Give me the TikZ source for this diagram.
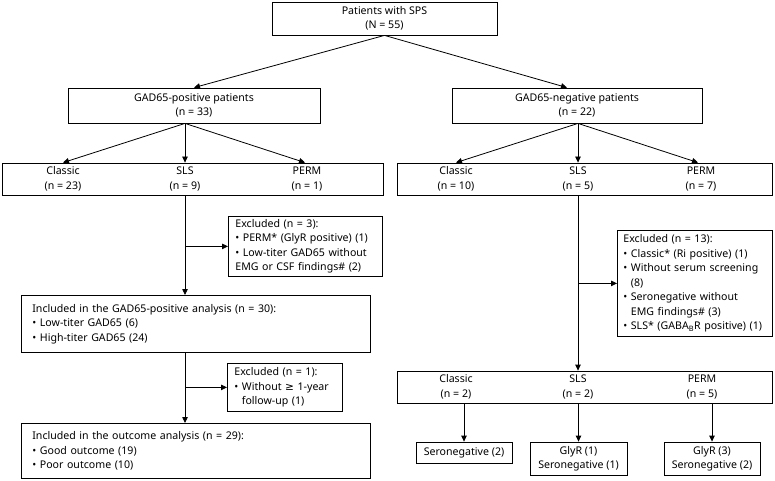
\documentclass[tikz,border=0pt]{standalone}
\usepackage{fontspec}
\setmainfont{Noto Sans}
\newfontfamily\symfont{DejaVu Sans}
\usepackage{tikz}
\usetikzlibrary{calc,positioning,arrows.meta}
\tikzset{
    >={Triangle[length=6pt,width=5.5pt]},
    box/.style={
        rectangle,
        draw, line width=0.8pt,
        inner sep=0pt,
        align=center
    },
    listbox/.style={
        box,
        anchor=north west,
        align=left,
        inner xsep=7pt
    },
    typetext/.style={align=center, inner sep=0pt},
    line/.style={draw, line width=0.8pt, ->},
    font={\fontsize{10.6pt}{14.5pt}\selectfont},
}
\begin{document}
\begin{tikzpicture}
[
    x=1pt, y=-1pt,
]
\useasboundingbox (0,0) rectangle (775,481);
% top levels
\node(all) at (384.5,18.5)[box, minimum width=225pt, minimum height=33pt]{Patients with SPS\\(N = 55)};
\node(gadpos) at (194,105.5)[box, minimum width=252pt, minimum height=35pt]{GAD65-positive patients\\(n = 33)};
\node(gadneg) at (577,105.5)[box, minimum width=250pt, minimum height=35pt]{GAD65-negative patients\\(n = 22)};
% phenotypes
\node(postype) at (192.5,179)[box, minimum width=381pt, minimum height=32pt]{};
\node(poscl) at (63,179)[typetext]{Classic\\(n = 23)};
\node(possls) at (185,179)[typetext]{SLS\\(n = 9)};
\node(posperm) at (307,179)[typetext]{PERM\\(n = 1)};
\node(negtype) at (584.5,179)[box, minimum width=375pt, minimum height=32pt]{};
\node(negcl) at (456,179)[typetext]{Classic\\(n = 10)};
\node(negsls) at (578,179)[typetext]{SLS\\(n = 5)};
\node(negperm) at (701,179)[typetext]{PERM\\(n = 7)};
% left branch
\node(exclpos) at (228,216)[listbox, text width=140pt, minimum height=60pt]{Excluded (n = 3):\\
    • PERM* (GlyR positive) (1)\\
    • Low-titer GAD65 without\\
    EMG or CSF findings\# (2)};
\node(inclpos) at (21,295)[listbox, inner xsep=11pt, text width=327pt, minimum height=57pt]{Included in the GAD65-positive analysis (n = 30):\\
    • Low-titer GAD65 (6)\\
    • High-titer GAD65 (24)};
\node(exclfu) at (227,363)[listbox, text width=101pt, minimum height=48pt]{Excluded (n = 1):\\
    • Without {\symfont ≥} 1-year\\
    \phantom{• }follow-up (1)};
\node(outcome) at (21,423)[listbox, inner xsep=11pt, text width=327pt, minimum height=55pt]{Included in the outcome analysis (n = 29):\\
    • Good outcome (19)\\
    • Poor outcome (10)};
% right branch
\node(exclneg) at (617,230)[listbox, inner xsep=6pt, text width=143pt, minimum height=106pt]{Excluded (n = 13):\\
    • Classic* (Ri positive) (1)\\
    • Without serum screening\\
    \phantom{• }(8)\\
    • Seronegative without\\
    \phantom{• }EMG findings\# (3)\\
    • SLS* (GABA\textsubscript{B}R positive) (1)};
\node(negsub) at (584.5,387)[box, minimum width=375pt, minimum height=32pt]{};
\node(subcl) at (456,387)[typetext]{Classic\\(n = 2)};
\node(subsls) at (578,387)[typetext]{SLS\\(n = 2)};
\node(subperm) at (702,387)[typetext]{PERM\\(n = 5)};
\node(serocl) at (464,452.5)[box, minimum width=96pt, minimum height=21pt]{Seronegative (2)};
\node(serosls) at (578.5,458.5)[box, minimum width=97pt, minimum height=33pt]{GlyR (1)\\Seronegative (1)};
\node(seroperm) at (712,458.5)[box, minimum width=96pt, minimum height=33pt]{GlyR (3)\\Seronegative (2)};
% arrows
\draw[line] (all.south) -- (gadpos.north);
\draw[line] (all.south) -- ([xshift=-10pt]gadneg.north);
\draw[line] (possls |- gadpos.south) -- (poscl |- postype.north);
\draw[line] (possls |- gadpos.south) -- (possls |- postype.north);
\draw[line] (possls |- gadpos.south) -- ([xshift=-2pt]posperm |- postype.north);
\draw[line] (negsls |- gadneg.south) -- (negcl |- negtype.north);
\draw[line] (negsls |- gadneg.south) -- (negsls |- negtype.north);
\draw[line] (negsls |- gadneg.south) -- ([xshift=-3pt]negperm |- negtype.north);
\draw[line] (possls |- postype.south) -- (possls |- inclpos.north);
\draw[line] (possls |- exclpos.west) -- (exclpos.west);
\draw[line] (possls |- inclpos.south) -- (possls |- outcome.north);
\draw[line] (possls |- exclfu.west) -- (exclfu.west);
\draw[line] (negsls |- negtype.south) -- (negsls |- negsub.north);
\draw[line] (negsls |- exclneg.west) -- (exclneg.west);
\draw[line] (serocl |- negsub.south) -- (serocl.north);
\draw[line] (serosls |- negsub.south) -- (serosls.north);
\draw[line] (seroperm |- negsub.south) -- (seroperm.north);
\end{tikzpicture}
\end{document}
